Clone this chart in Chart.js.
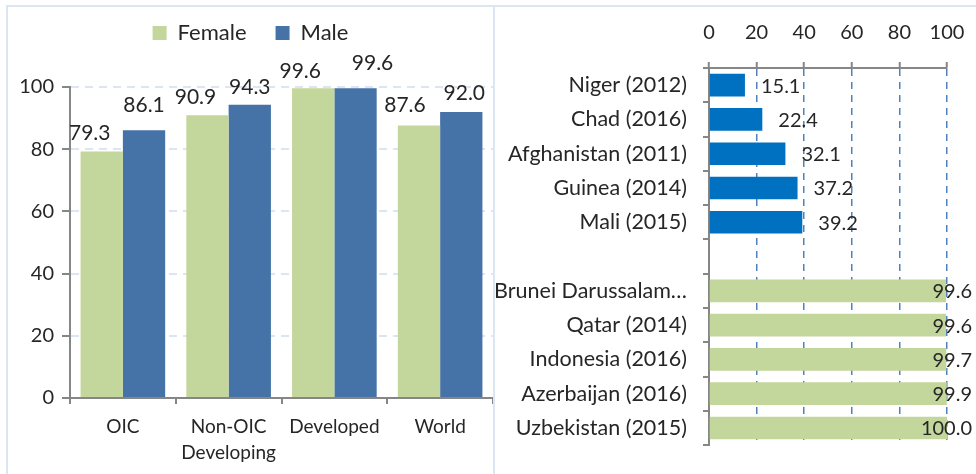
<!DOCTYPE html>
<html>
<head>
<meta charset="utf-8">
<script src="https://cdn.jsdelivr.net/npm/chart.js@4.4.1/dist/chart.umd.min.js"></script>
<style>
  body { margin: 0; background: #fff; width: 976px; height: 474px; overflow: hidden; position: relative; font-family: Lato, sans-serif; }
  .frame { position: absolute; left: 6px; top: 5px; width: 970px; height: 469px; border-left: 2px solid #dce6f2; border-top: 2px solid #dce6f2; box-sizing: border-box; }
  .divider { position: absolute; left: 493px; top: 5px; width: 2px; height: 469px; background: #dce6f2; }
  .box { position: absolute; top: 8px; height: 466px; }
  #leftBox { left: 8px; width: 485px; }
  #rightBox { left: 495px; width: 481px; }
</style>
</head>
<body>
<div class="frame"></div>
<div class="divider"></div>
<div class="box" id="leftBox"><canvas id="genderChart"></canvas></div>
<div class="box" id="rightBox"><canvas id="countryChart"></canvas></div>

<script>
// ==========================
// DATA
// ==========================

const groups = ["OIC", ["Non-OIC", "Developing"], "Developed", "World"];
const femaleRates = [79.3, 90.9, 99.6, 87.6];
const maleRates = [86.1, 94.3, 99.6, 92.0];

const countries = [
    "Niger (2012)",
    "Chad (2016)",
    "Afghanistan (2011)",
    "Guinea (2014)",
    "Mali (2015)",
    "",
    "Brunei Darussalam\u2026",
    "Qatar (2014)",
    "Indonesia (2016)",
    "Azerbaijan (2016)",
    "Uzbekistan (2015)"
];
const lowestRates = [15.1, 22.4, 32.1, 37.2, 39.2, null, null, null, null, null, null];
const highestRates = [null, null, null, null, null, null, 99.6, 99.6, 99.7, 99.9, 100.0];

const FONT = "Lato";
const TEXT = "#262626";
const AXIS = "#868686";
const GREEN = "#c3d69b";

// ==========================
// VALUE LABELS
// ==========================

const valueLabels = {
    id: "valueLabels",
    afterDatasetsDraw(chart, args, opts) {
        const ctx = chart.ctx;
        ctx.save();
        ctx.font = opts.size + "px " + FONT;
        ctx.fillStyle = TEXT;
        chart.data.datasets.forEach((ds, di) => {
            const meta = chart.getDatasetMeta(di);
            meta.data.forEach((bar, i) => {
                const v = ds.data[i];
                if (v == null) return;
                const text = v.toFixed(1);
                if (opts.horizontal) {
                    const w = ctx.measureText(text).width;
                    ctx.textAlign = "left";
                    ctx.textBaseline = "middle";
                    const x = Math.min(bar.x + opts.gap, chart.width - 4 - w);
                    ctx.fillText(text, x, bar.y + 1);
                } else {
                    ctx.textAlign = "center";
                    ctx.textBaseline = "alphabetic";
                    const dx = (opts.shift[di] || [])[i] || 0;
                    const dy = (opts.lift[di] || [])[i] || 0;
                    ctx.fillText(text, bar.x + dx, bar.y - opts.gap - dy);
                }
            });
        });
        ctx.restore();
    }
};

// taller legend box so the plot starts lower
const legendRoom = {
    id: "legendRoom",
    beforeInit(chart) {
        const fit = chart.legend.fit;
        chart.legend.fit = function () {
            fit.call(this);
            this.height = 94;
        };
    }
};

// ==========================
// FEMALE / MALE
// ==========================

new Chart(document.getElementById("genderChart"), {
    type: "bar",
    data: {
        labels: groups,
        datasets: [
            { label: "Female", data: femaleRates, backgroundColor: GREEN },
            { label: "Male", data: maleRates, backgroundColor: "#4572a7" }
        ]
    },
    options: {
        responsive: true,
        maintainAspectRatio: false,
        animation: false,
        categoryPercentage: 0.8,
        barPercentage: 1.0,
        layout: { padding: { top: -15, right: 0, bottom: 0, left: 0 } },
        plugins: {
            legend: {
                position: "top",
                labels: {
                    font: { family: FONT, size: 22 },
                    color: TEXT,
                    boxWidth: 14,
                    boxHeight: 14,
                    padding: 29
                }
            },
            tooltip: { enabled: false },
            valueLabels: {
                size: 21,
                gap: 11,
                shift: [[-12, -12, -13, -14], [0, 0, 17, 3]],
                lift: [[0, 0, -1, 3], [7, 0, 7, 1]]
            }
        },
        scales: {
            x: {
                afterFit: s => { s.height = 76; },
                border: { color: AXIS, width: 2 },
                grid: { offset: true, drawOnChartArea: false, tickLength: 6, color: AXIS, lineWidth: 2 },
                ticks: { color: TEXT, font: { family: FONT, size: 19, lineHeight: 1.35 }, padding: 10, maxRotation: 0 }
            },
            y: {
                min: 0,
                max: 100,
                afterFit: s => { s.width = 62; },
                border: { color: AXIS, width: 2, dash: [8, 6] },
                grid: { color: "#dce6f2", lineWidth: 2, tickLength: 8, tickColor: AXIS },
                ticks: { stepSize: 20, color: TEXT, font: { family: FONT, size: 20 }, padding: 8 }
            }
        }
    },
    plugins: [legendRoom, valueLabels]
});

// ==========================
// COUNTRIES
// ==========================

new Chart(document.getElementById("countryChart"), {
    type: "bar",
    data: {
        labels: countries,
        datasets: [
            { label: "Lowest", data: lowestRates, backgroundColor: "#0070c0", grouped: false },
            { label: "Highest", data: highestRates, backgroundColor: GREEN, grouped: false }
        ]
    },
    options: {
        indexAxis: "y",
        responsive: true,
        maintainAspectRatio: false,
        animation: false,
        categoryPercentage: 1.0,
        barPercentage: 0.66,
        layout: { padding: { top: 0, right: 29, bottom: 10, left: 0 } },
        plugins: {
            legend: { display: false },
            tooltip: { enabled: false },
            valueLabels: { size: 20, gap: 16, horizontal: true }
        },
        scales: {
            x: {
                position: "top",
                min: 0,
                max: 100,
                afterFit: s => { s.height = 60; s.paddingRight = 0; },
                border: { color: AXIS, width: 2, dash: [7, 6] },
                grid: { color: "#4f81bd", lineWidth: 1.5, tickLength: 6, tickColor: AXIS, tickWidth: 2 },
                ticks: { stepSize: 20, color: TEXT, font: { family: FONT, size: 20 }, padding: 17 }
            },
            y: {
                afterFit: s => { s.width = 214; },
                border: { color: AXIS, width: 2 },
                grid: { offset: true, drawOnChartArea: false, tickLength: 6, color: AXIS, lineWidth: 2 },
                ticks: { color: TEXT, font: { family: FONT, size: 21.5 }, padding: 16, autoSkip: false }
            }
        }
    },
    plugins: [valueLabels]
});
</script>
</body>
</html>
